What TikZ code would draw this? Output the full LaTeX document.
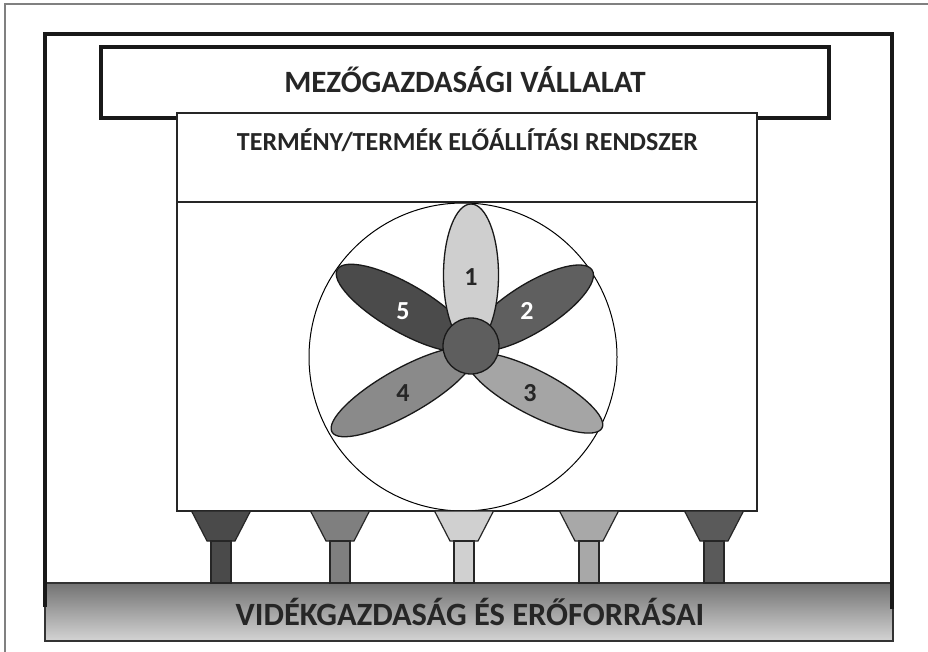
\documentclass[tikz,border=0pt]{standalone}
\usepackage{fontspec}
\setmainfont{Carlito}
\definecolor{pA}{HTML}{CFCFCF}
\definecolor{pB}{HTML}{5F5F5F}
\definecolor{pC}{HTML}{A5A5A5}
\definecolor{pD}{HTML}{8A8A8A}
\definecolor{pE}{HTML}{4B4B4B}
\definecolor{discc}{HTML}{5E5E5E}
\definecolor{txt}{HTML}{262626}
\definecolor{fA}{HTML}{4A4A4A}
\definecolor{fB}{HTML}{7F7F7F}
\definecolor{fC}{HTML}{D0D0D0}
\definecolor{fD}{HTML}{A8A8A8}
\definecolor{fE}{HTML}{5A5A5A}
\newcommand\mypetal[6]{\draw[petal, fill=#6, rotate around={#3:(#1,#2)}] (#1,#2) ellipse [x radius=#4, y radius=#5];}
\newcommand\myfunnel[2]{%
  \draw[funnel, fill=#2] (#1-29.5,511) -- (#1+29.5,511) -- (#1+14,541) -- (#1-14,541) -- cycle;
  \draw[funnel, fill=#2] (#1-10,541) rectangle (#1+10,583);}
\begin{document}
\begin{tikzpicture}[x=1pt,y=-1pt,
  frame/.style={line width=4pt, draw=black!90},
  boxline/.style={draw=black!85, line width=1.4pt},
  petal/.style={draw=black!90, line width=1.3pt},
  funnel/.style={draw=black!85, line width=1.2pt},
  bigtext/.style={font=\fontsize{31}{31}\selectfont\bfseries, text=txt},
  bottext/.style={font=\fontsize{32.5}{32.5}\selectfont\bfseries, text=txt},
  midtext/.style={font=\fontsize{26}{26}\selectfont\bfseries, text=txt},
  num/.style={font=\fontsize{26}{26}\selectfont\bfseries}]
\useasboundingbox (0,0) rectangle (928,652);
\fill[white] (0,0) rectangle (928,652);
% outer thin frame
\draw[gray, line width=1.5pt] (5,652) -- (5,4) -- (928,4);
% bottom bar
\node[draw=black!80, line width=1.2pt, top color=black!55, bottom color=black!17,
      minimum width=848pt, minimum height=58pt, inner sep=0pt] (bar) at (469,612) {};
\node[bottext] (bartext) at (470,612) {VIDÉKGAZDASÁG ÉS ERŐFORRÁSAI};
% thick frame
\draw[frame] (45,607) -- (45,34) -- (892,34) -- (892,609);
% title box
\node[frame, fill=white, minimum width=728pt, minimum height=71pt, inner sep=0pt] (title) at (465,82.5) {};
\node[bigtext] (titletext) at (465,80) {MEZŐGAZDASÁGI VÁLLALAT};
% inner box
\node[boxline, fill=white, minimum width=580pt, minimum height=398pt, inner sep=0pt] (inner) at (467,312) {};
\draw[boxline] (177,202) -- (757,202);
\node[midtext] (innertext) at (467.5,140) {TERMÉNY/TERMÉK ELŐÁLLÍTÁSI RENDSZER};
% ring
\node[circle, draw=black, line width=1pt, minimum size=308pt, inner sep=0pt] (ring) at (463,357) {};
% petals
\mypetal{404}{308}{150}{77}{24}{pE}
\mypetal{531.5}{308}{32}{71.5}{24}{pB}
\mypetal{403}{392}{209.4}{81.5}{23}{pD}
\mypetal{535}{393}{-27.6}{75.6}{22}{pC}
\mypetal{471}{275}{90}{71}{27.5}{pA}
\node[circle, draw=black!90, line width=1.3pt, fill=discc, minimum size=56pt, inner sep=0pt] (disc) at (471,346) {};
\node[num, text=txt] (n1) at (471,277) {1};
\node[num, text=white] (n2) at (527,311) {2};
\node[num, text=txt] (n3) at (530,393) {3};
\node[num, text=txt] (n4) at (403,393) {4};
\node[num, text=white] (n5) at (403,311) {5};
% funnels
\myfunnel{221}{fA}
\myfunnel{340}{fB}
\myfunnel{464}{fC}
\myfunnel{589}{fD}
\myfunnel{714}{fE}
\end{tikzpicture}
\end{document}
